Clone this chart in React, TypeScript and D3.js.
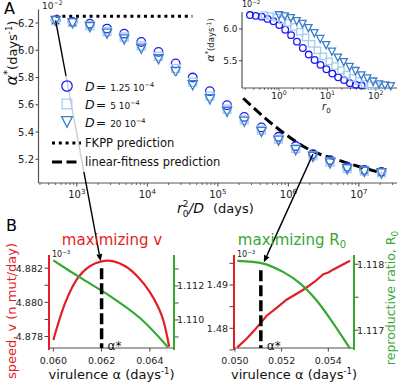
import React, { useEffect, useRef } from 'react';
import * as d3 from 'd3';

// panel A: alpha* (x1e-2 days^-1) against r0^2/D (days)
const r0sqOverD = [500, 870, 1530, 2680, 4700, 8200, 14400, 25200, 44000, 77000, 135000, 237000, 415000, 725000, 1270000, 2230000, 3900000, 6830000, 11950000, 20900000];
const alphaD125 = [6.22, 6.207, 6.195, 6.159, 6.122, 6.061, 5.988, 5.903, 5.8, 5.7, 5.597, 5.511, 5.434, 5.365, 5.297, 5.238, 5.194, 5.145, 5.121, 5.108];
const alphaD5 = [6.218, 6.203, 6.18, 6.137, 6.097, 6.032, 5.956, 5.866, 5.766, 5.664, 5.568, 5.489, 5.414, 5.348, 5.279, 5.226, 5.18, 5.133, 5.113, 5.101];
const alphaD20 = [6.215, 6.198, 6.17, 6.122, 6.08, 6.012, 5.934, 5.841, 5.744, 5.64, 5.548, 5.475, 5.401, 5.336, 5.267, 5.218, 5.17, 5.126, 5.108, 5.097];
const diffusions = [1.25e-4, 5e-4, 20e-4];
const diffusionLabels = ['1.25', '5', '20'];
const fkppX = [500, 43500];
const fkppAlpha = 6.25;
const linFitX = [229000, 692000, 2000000, 5370000, 20900000];
const linFitAlpha = [5.648, 5.43, 5.27, 5.19, 5.1];
const yTicksA = [5.2, 5.4, 5.6, 5.8, 6.0, 6.2];
const xMajorsA = [1e3, 1e4, 1e5, 1e6, 1e7];
const yTicksInset = [5.5, 6.0];
const xMajorsInset = [1, 10, 100];

// panel B left: maximizing v
const virulenceSpeed = [0.06, 0.0605, 0.061, 0.0615, 0.062, 0.0625, 0.063, 0.0635, 0.064, 0.0645, 0.0648];
const speed = [4.8778, 4.88, 4.8814, 4.8821, 4.8824, 4.8824, 4.8821, 4.8815, 4.8806, 4.8792, 4.8774];
const virulenceR0Left = [0.06, 0.0611, 0.06235, 0.0636, 0.06475];
const r0Left = [1.1135, 1.1125, 1.1114, 1.1101, 1.1084];
const alphaStarLeft = 0.062;
const starTopLeft = 4.882;

// panel B right: maximizing R0
const virulenceSpeedR = [0.0501, 0.0505, 0.05086, 0.05136, 0.0518, 0.05221, 0.05293, 0.0534, 0.05379, 0.054, 0.05422, 0.05493];
const speedR = [1.4756, 1.4776, 1.4797, 1.4829, 1.4848, 1.4866, 1.4889, 1.4907, 1.4925, 1.4929, 1.4936, 1.4956];
const virulenceR0Right = [0.0501, 0.05122, 0.05208, 0.05279, 0.0535, 0.05422, 0.05493];
const r0Right = [1.11805, 1.11801, 1.11788, 1.11771, 1.11745, 1.1171, 1.11672];
const alphaStarRight = 0.05111;
const starTopRight = 1.4934;

const blue1 = '#1c1cf2';
const blue2 = '#a6cdf0';
const blue3 = '#3a7dc8';
const red = '#e31e24';
const green = '#36a832';
const font = 'DejaVu Sans';

function marker(g: any, shape: string, x: number, y: number, s: number, color: string) {
  if (shape === 'circle') {
    g.append('circle').attr('cx', x).attr('cy', y).attr('r', s).attr('fill', 'none').attr('stroke', color).attr('stroke-width', 1.3);
  } else if (shape === 'square') {
    g.append('rect').attr('x', x - s).attr('y', y - s).attr('width', 2 * s).attr('height', 2 * s).attr('fill', 'none').attr('stroke', color).attr('stroke-width', 1.3);
  } else {
    g.append('path').attr('d', `M${x - s},${y - s}L${x + s},${y - s}L${x},${y + s}Z`).attr('fill', 'none').attr('stroke', color).attr('stroke-width', 1.3);
  }
}

function supText(g: any, x: number, y: number, base: string, sup: string, size: number, anchor = 'start') {
  const t = g.append('text').attr('x', x).attr('y', y).attr('font-size', size).attr('text-anchor', anchor).attr('fill', '#222');
  t.append('tspan').text(base);
  t.append('tspan').attr('font-size', size * 0.7).attr('dy', -size * 0.42).text(sup);
  return t;
}

function arrow(g: any, x1: number, y1: number, x2: number, y2: number) {
  const len = Math.hypot(x2 - x1, y2 - y1);
  const ux = (x2 - x1) / len, uy = (y2 - y1) / len;
  const bx = x2 - ux * 7, by = y2 - uy * 7;
  g.append('line').attr('x1', x1).attr('y1', y1).attr('x2', bx).attr('y2', by).attr('stroke', '#000').attr('stroke-width', 1.4);
  g.append('path')
    .attr('d', `M${x2},${y2}L${bx - uy * 3},${by + ux * 3}L${bx + uy * 3},${by - ux * 3}Z`)
    .attr('fill', '#000');
}

function drawChart(node: SVGSVGElement) {
  const svg = d3.select(node);
  svg.selectAll('*').remove();

  // ---------- panel A ----------
  const xA = d3.scaleLog().domain([286, 3.47e7]).range([38.5, 397]);
  const yA = d3.scaleLinear().domain([5.026, 6.3]).range([183, 9.4]);
  const gA = svg.append('g');

  gA.append('line').attr('x1', 38.5).attr('x2', 38.5).attr('y1', yA.range()[1]).attr('y2', 183).attr('stroke', '#555').attr('stroke-width', 1.2);
  gA.append('line').attr('x1', 38.5).attr('x2', 397).attr('y1', 183).attr('y2', 183).attr('stroke', '#555').attr('stroke-width', 1.2);

  xA.ticks().filter((t) => t >= 286 && t <= 3.47e7).forEach((t) => {
    const major = Math.abs(Math.log10(t) - Math.round(Math.log10(t))) < 1e-9;
    gA.append('line').attr('x1', xA(t)).attr('x2', xA(t)).attr('y1', 183).attr('y2', 183 + (major ? 3.5 : 2)).attr('stroke', '#444').attr('stroke-width', major ? 1 : 0.8);
  });
  xMajorsA.forEach((t) => supText(gA, xA(t), 198, '10', String(Math.round(Math.log10(t))), 10, 'middle'));

  yTicksA.forEach((t) => {
    gA.append('line').attr('x1', 38.5).attr('x2', 35.5).attr('y1', yA(t)).attr('y2', yA(t)).attr('stroke', '#444');
    gA.append('text').attr('x', 34).attr('y', yA(t) + 3.5).attr('font-size', 10).attr('text-anchor', 'end').attr('fill', '#222').text(d3.format('.1f')(t));
  });
  supText(gA, 42, 9, '10', '\u22122', 9);

  // y label
  const yl = gA.append('text').attr('transform', 'translate(17,53) rotate(-90)').attr('text-anchor', 'middle').attr('fill', '#111');
  yl.append('tspan').attr('font-size', 16).attr('font-style', 'italic').text('\u03b1');
  yl.append('tspan').attr('font-size', 10).attr('dy', -6).text('*');
  yl.append('tspan').attr('font-size', 13).attr('dy', 6).text('(days');
  yl.append('tspan').attr('font-size', 8.5).attr('dy', -5).text('-1');
  yl.append('tspan').attr('font-size', 13).attr('dy', 5).text(')');

  // x label
  const xl = gA.append('text').attr('x', 177).attr('y', 213).attr('fill', '#111');
  xl.append('tspan').attr('font-size', 14).attr('font-style', 'italic').text('r');
  xl.append('tspan').attr('font-size', 9).attr('dy', -6).text('2');
  xl.append('tspan').attr('font-size', 9).attr('dx', -5.7).attr('dy', 9.5).text('0');
  xl.append('tspan').attr('font-size', 14).attr('font-style', 'italic').attr('dy', -3.5).text('/D');
  xl.append('tspan').attr('font-size', 13).attr('dx', 9).text('(days)');

  // FKPP and linear-fitness predictions
  gA.append('line').attr('x1', xA(fkppX[0])).attr('x2', xA(fkppX[1])).attr('y1', yA(fkppAlpha)).attr('y2', yA(fkppAlpha))
    .attr('stroke', '#000').attr('stroke-width', 3).attr('stroke-dasharray', '3,3.8');
  const linPath = d3.line<number>().x((d, i) => xA(linFitX[i])).y((d) => yA(d)).curve(d3.curveMonotoneX);
  gA.append('path').attr('d', linPath(linFitAlpha)).attr('fill', 'none').attr('stroke', '#000').attr('stroke-width', 3).attr('stroke-dasharray', '10,4.5');

  // ---------- panel B scales ----------
  const xBL = d3.scaleLinear().domain([0.05982, 0.065]).range([49, 174]);
  const vBL = d3.scaleLinear().domain([4.87733, 4.88277]).range([348, 255]);
  const gBLs = d3.scaleLinear().domain([1.10835, 1.11382]).range([348, 255]);
  const xBR = d3.scaleLinear().domain([0.04996, 0.0551]).range([234, 354]);
  const vBR = d3.scaleLinear().domain([1.47545, 1.49693]).range([348, 255]);
  const gBRs = d3.scaleLinear().domain([1.11673, 1.11814]).range([348, 255]);

  // annotation arrows from panel A to panel B
  const gArr = svg.append('g');
  arrow(gArr, xA(r0sqOverD[0]), yA(alphaD125[0]), xBL(alphaStarLeft) - 1, vBL(starTopLeft) - 7);
  arrow(gArr, xA(r0sqOverD[15]), yA(alphaD125[15]), xBR(alphaStarRight) + 3, vBR(starTopRight) - 8);

  // data markers
  const series = [
    { vals: alphaD125, shape: 'circle', color: blue1 },
    { vals: alphaD5, shape: 'square', color: blue2 },
    { vals: alphaD20, shape: 'triangle', color: blue3 },
  ];
  series.forEach((s) => s.vals.forEach((v, i) => marker(gA, s.shape, xA(r0sqOverD[i]), yA(v), s.shape === 'square' ? 4 : s.shape === 'circle' ? 4.3 : 4.6, s.color)));

  // legend
  const gL = svg.append('g');
  gL.append('rect').attr('x', 50).attr('y', 76).attr('width', 135).attr('height', 96).attr('fill', '#fff').attr('opacity', 0.8);
  const legY = [86, 104, 122];
  series.forEach((s, i) => {
    marker(gL, s.shape, 67, legY[i], s.shape === 'square' ? 4.8 : s.shape === 'circle' ? 5.2 : 5.4, s.color);
    const t = gL.append('text').attr('x', 85).attr('y', legY[i] + 4.5).attr('fill', '#111');
    t.append('tspan').attr('font-size', 12.5).attr('font-style', 'italic').text('D');
    t.append('tspan').attr('font-size', 12.5).attr('dx', 1).text('=');
    t.append('tspan').attr('font-size', 9).attr('dx', 4).text(diffusionLabels[i] + ' 10');
    t.append('tspan').attr('font-size', 6.5).attr('dy', -4).text('\u22124');
  });
  gL.append('line').attr('x1', 52).attr('x2', 81).attr('y1', 143).attr('y2', 143).attr('stroke', '#000').attr('stroke-width', 3).attr('stroke-dasharray', '3,3.8');
  gL.append('text').attr('x', 85).attr('y', 147).attr('font-size', 11.5).attr('fill', '#111').text('FKPP prediction');
  gL.append('line').attr('x1', 52).attr('x2', 81).attr('y1', 162).attr('y2', 162).attr('stroke', '#000').attr('stroke-width', 3).attr('stroke-dasharray', '10,4.5');
  gL.append('text').attr('x', 85).attr('y', 166).attr('font-size', 11.5).attr('fill', '#111').text('linear-fitness prediction');

  // panel labels
  svg.append('text').attr('x', 4).attr('y', 14).attr('font-size', 16).attr('fill', '#000').text('A');
  svg.append('text').attr('x', 6).attr('y', 231).attr('font-size', 16).attr('fill', '#000').text('B');

  // ---------- inset ----------
  const xI = d3.scaleLog().domain([0.1714, 275]).range([242, 397]);
  const yI = d3.scaleLinear().domain([5.069, 6.268]).range([88, 12]);
  const gI = svg.append('g');
  gI.append('line').attr('x1', 242).attr('x2', 242).attr('y1', 12).attr('y2', 88).attr('stroke', '#555').attr('stroke-width', 1.2);
  gI.append('line').attr('x1', 242).attr('x2', 397).attr('y1', 88).attr('y2', 88).attr('stroke', '#555').attr('stroke-width', 1.2);
  xI.ticks().filter((t) => t >= 0.1714 && t <= 275).forEach((t) => {
    const major = Math.abs(Math.log10(t) - Math.round(Math.log10(t))) < 1e-9;
    gI.append('line').attr('x1', xI(t)).attr('x2', xI(t)).attr('y1', 88).attr('y2', 88 + (major ? 3 : 1.8)).attr('stroke', '#444').attr('stroke-width', 0.8);
  });
  xMajorsInset.forEach((t) => supText(gI, xI(t), 98.5, '10', String(Math.round(Math.log10(t))), 9, 'middle'));
  yTicksInset.forEach((t) => {
    gI.append('line').attr('x1', 242).attr('x2', 239).attr('y1', yI(t)).attr('y2', yI(t)).attr('stroke', '#444');
    gI.append('text').attr('x', 237.5).attr('y', yI(t) + 3.2).attr('font-size', 9).attr('text-anchor', 'end').attr('fill', '#222').text(d3.format('.1f')(t));
  });
  supText(gI, 242, 7, '10', '\u22122', 8);
  const il = gI.append('text').attr('transform', 'translate(214,40) rotate(-90)').attr('text-anchor', 'middle').attr('fill', '#111');
  il.append('tspan').attr('font-size', 11).attr('font-style', 'italic').text('\u03b1');
  il.append('tspan').attr('font-size', 7).attr('dy', -4).text('*');
  il.append('tspan').attr('font-size', 8.5).attr('dy', 4).text('(days');
  il.append('tspan').attr('font-size', 6).attr('dy', -3.5).text('-1');
  il.append('tspan').attr('font-size', 8.5).attr('dy', 3.5).text(')');
  const rl = gI.append('text').attr('x', 322).attr('y', 110).attr('fill', '#111');
  rl.append('tspan').attr('font-size', 10).attr('font-style', 'italic').text('r');
  rl.append('tspan').attr('font-size', 7).attr('dy', 2.5).text('0');
  series.forEach((s, k) => s.vals.forEach((v, i) => marker(gI, s.shape, xI(Math.sqrt(r0sqOverD[i] * diffusions[k])), yI(v), s.shape === 'square' ? 3.2 : s.shape === 'circle' ? 3.3 : 3.6, s.color)));

  // ---------- panel B helpers ----------
  const panelB = (x: any, vS: any, gS: any, x0: number, x1: number, opts: any) => {
    const g = svg.append('g');
    g.append('line').attr('x1', x0).attr('x2', x1).attr('y1', 348).attr('y2', 348).attr('stroke', '#888').attr('stroke-width', 1.5);
    g.append('line').attr('x1', x0).attr('x2', x0).attr('y1', 255).attr('y2', 350).attr('stroke', red).attr('stroke-width', 2);
    g.append('line').attr('x1', x1).attr('x2', x1).attr('y1', 255).attr('y2', 350).attr('stroke', green).attr('stroke-width', 2);
    opts.xTicks.forEach((t: number) => {
      g.append('line').attr('x1', x(t)).attr('x2', x(t)).attr('y1', 348).attr('y2', 351.5).attr('stroke', '#444');
      g.append('text').attr('x', x(t)).attr('y', 364).attr('font-size', 9.5).attr('text-anchor', 'middle').attr('fill', '#222').text(d3.format('.3f')(t));
    });
    opts.vTicks.forEach((t: number) => {
      g.append('line').attr('x1', x0 - 1).attr('x2', x0 - 4.5).attr('y1', vS(t)).attr('y2', vS(t)).attr('stroke', '#444');
      if (opts.vLabels.includes(t))
        g.append('text').attr('x', x0 - 6).attr('y', vS(t) + 3.4).attr('font-size', 9.5).attr('text-anchor', 'end').attr('fill', '#222').text(d3.format(opts.vFmt)(t));
    });
    opts.gTicks.forEach((t: number) => {
      g.append('line').attr('x1', x1 + 1).attr('x2', x1 + 4.5).attr('y1', gS(t)).attr('y2', gS(t)).attr('stroke', '#444');
      if (opts.gLabels.includes(t))
        g.append('text').attr('x', x1 + 3).attr('y', gS(t) + 3.4).attr('font-size', 9.5).attr('fill', '#222').text(d3.format('.3f')(t));
    });
    supText(g, x0 + 3, 257, '10', '\u22123', 8);

    const xlab = g.append('text').attr('x', (x0 + x1) / 2).attr('y', 379).attr('font-size', 13).attr('text-anchor', 'middle').attr('fill', '#111');
    xlab.append('tspan').text('virulence \u03b1 (days');
    xlab.append('tspan').attr('font-size', 8.5).attr('dy', -5).text('-1');
    xlab.append('tspan').attr('dy', 5).text(')');

    const vLine = d3.line<number>().x((d, i) => x(opts.vx[i])).y((d) => vS(d)).curve(opts.vCurve);
    g.append('path').attr('d', vLine(opts.vy)).attr('fill', 'none').attr('stroke', red).attr('stroke-width', 2.2);
    const gLine = d3.line<number>().x((d, i) => x(opts.gx[i])).y((d) => gS(d)).curve(d3.curveCatmullRom);
    g.append('path').attr('d', gLine(opts.gy)).attr('fill', 'none').attr('stroke', green).attr('stroke-width', 2.2);

    g.append('line').attr('x1', x(opts.star)).attr('x2', x(opts.star)).attr('y1', vS(opts.starTop)).attr('y2', 348)
      .attr('stroke', '#000').attr('stroke-width', 3.5).attr('stroke-dasharray', '11,4');
    g.append('text').attr('x', x(opts.star) + 6).attr('y', 350).attr('font-size', 12).attr('fill', '#111').text('\u03b1*');
    return g;
  };

  panelB(xBL, vBL, gBLs, 49, 174, {
    xTicks: [0.06, 0.062, 0.064],
    vTicks: [4.878, 4.879, 4.88, 4.881, 4.882], vLabels: [4.878, 4.88, 4.882], vFmt: '.3f',
    gTicks: [1.109, 1.11, 1.111, 1.112, 1.113], gLabels: [1.11, 1.112],
    vx: virulenceSpeed, vy: speed, vCurve: d3.curveCatmullRom,
    gx: virulenceR0Left, gy: r0Left, star: alphaStarLeft, starTop: starTopLeft,
  });
  panelB(xBR, vBR, gBRs, 234, 354, {
    xTicks: [0.05, 0.052, 0.054],
    vTicks: [1.475, 1.48, 1.485, 1.49, 1.495], vLabels: [1.48, 1.49], vFmt: '.2f',
    gTicks: [1.117, 1.1175, 1.118], gLabels: [1.117, 1.118],
    vx: virulenceSpeedR, vy: speedR, vCurve: d3.curveLinear,
    gx: virulenceR0Right, gy: r0Right, star: alphaStarRight, starTop: starTopRight,
  });

  // titles and colored axis labels
  svg.append('text').attr('x', 112).attr('y', 245).attr('font-size', 15).attr('text-anchor', 'middle').attr('fill', red).text('maximizing v');
  const t2 = svg.append('text').attr('x', 292).attr('y', 245).attr('font-size', 15).attr('text-anchor', 'middle').attr('fill', green);
  t2.append('tspan').text('maximizing R');
  t2.append('tspan').attr('font-size', 10).attr('dy', 3).text('0');
  svg.append('text').attr('transform', 'translate(16,311) rotate(-90)').attr('font-size', 13).attr('text-anchor', 'middle').attr('fill', red).text('speed, v (n mut/day)');
  const gl = svg.append('text').attr('transform', 'translate(394.5,298) rotate(-90)').attr('font-size', 12.5).attr('text-anchor', 'middle').attr('fill', green);
  gl.append('tspan').text('reproductive ratio, R');
  gl.append('tspan').attr('font-size', 9).attr('dy', 3).text('0');
}

export default function App() {
  const ref = useRef<SVGSVGElement>(null);

  useEffect(() => {
    if (ref.current) drawChart(ref.current);
  }, []);

  return (
    <svg
      ref={ref}
      width={399}
      height={383}
      fontFamily={font}
      style={{ position: 'absolute', left: 0, top: 0, background: '#fff' }}
    />
  );
}
